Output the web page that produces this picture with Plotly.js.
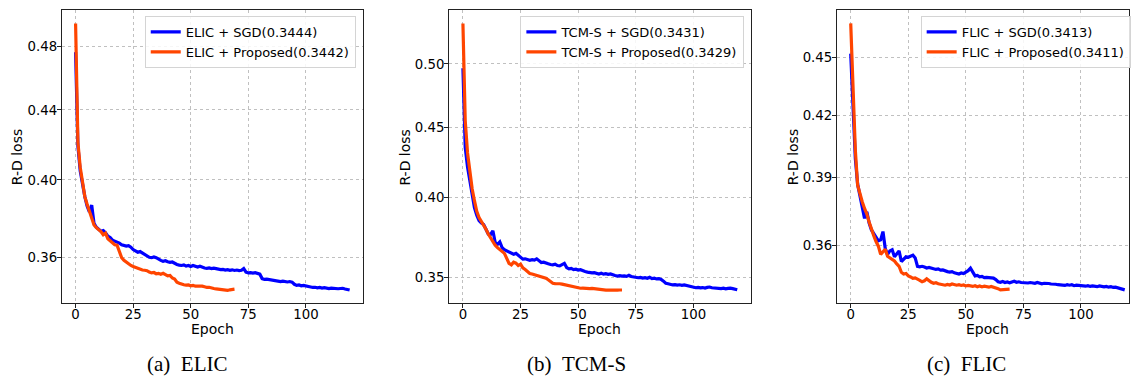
<!DOCTYPE html>
<html>
<head>
<meta charset="utf-8">
<script src="https://cdn.plot.ly/plotly-3.0.1.min.js"></script>
<style>html,body{margin:0;padding:0;background:#fff;}#chart{width:1131px;height:377px;}</style>
</head>
<body>
<div id="chart"></div>
<script>
// ---- Data (R-D loss per epoch) ----
const elicSGD = [0.476,0.419,0.405,0.397,0.391,0.386,0.383,0.3865,0.377,0.375,
0.3738,0.3730,0.3733,0.3722,0.3705,0.3698,0.3685,0.3680,0.3677,0.3670,
0.3662,0.3658,0.3655,0.3657,0.3650,0.3638,0.3632,0.3625,0.3628,0.3620,
0.3612,0.3605,0.3600,0.3598,0.3602,0.3598,0.3590,0.3585,0.3580,0.3583,
0.3578,0.3575,0.3577,0.3570,0.3565,0.3562,0.3560,0.3563,0.3557,0.3560,
0.3555,0.3560,0.3555,0.3552,0.3556,0.3550,0.3548,0.3546,0.3548,0.3545,
0.3547,0.3545,0.3542,0.3540,0.3541,0.3538,0.3540,0.3537,0.3539,0.3536,
0.3538,0.3535,0.3537,0.3545,0.3528,0.3524,0.3525,0.3523,0.3525,0.3522,
0.3518,0.3497,0.3493,0.3494,0.3492,0.3490,0.3488,0.3486,0.3485,0.3483,
0.3485,0.3482,0.3481,0.3483,0.3480,0.3470,0.3465,0.3467,0.3463,0.3465,
0.3462,0.3460,0.3456,0.3455,0.3456,0.3453,0.3455,0.3452,0.3454,0.3452,
0.3450,0.3452,0.3450,0.3451,0.3449,0.3450,0.3451,0.3448,0.3446,0.3443];
const elicProp = [0.495,0.421,0.407,0.398,0.391,0.387,0.3830,0.3795,0.3762,0.3748,
0.3738,0.3728,0.3712,0.3720,0.3692,0.3682,0.3668,0.3662,0.3660,0.3625,
0.3598,0.3585,0.3575,0.3568,0.3560,0.3555,0.3550,0.3547,0.3542,0.3538,
0.3537,0.3535,0.3528,0.3524,0.3526,0.3520,0.3522,0.3518,0.3522,0.3514,
0.3510,0.3512,0.3500,0.3495,0.3480,0.3475,0.3470,0.3468,0.3466,0.3467,
0.3463,0.3465,0.3461,0.3462,0.3460,0.3461,0.3458,0.3455,0.3456,0.3452,
0.3450,0.3448,0.3447,0.3446,0.3445,0.3443,0.3441,0.3444,0.3445,0.3447];

const tcmSGD = [0.4965,0.435,0.421,0.411,0.402,0.3935,0.3885,0.3850,0.3835,0.3825,
0.3795,0.3765,0.3762,0.3785,0.3712,0.3700,0.3715,0.3680,0.3667,0.3660,
0.3650,0.3648,0.3640,0.3645,0.3634,0.3620,0.3610,0.3612,0.3605,0.3603,
0.3607,0.3604,0.3612,0.3598,0.3590,0.3592,0.3585,0.3582,0.3578,0.3576,
0.3580,0.3572,0.3570,0.3575,0.3585,0.3560,0.3552,0.3555,0.3548,0.3550,
0.3545,0.3547,0.3540,0.3537,0.3533,0.3530,0.3528,0.3530,0.3524,0.3522,
0.3526,0.3521,0.3524,0.3520,0.3522,0.3516,0.3513,0.3510,0.3512,0.3509,
0.3511,0.3508,0.3514,0.3507,0.3504,0.3502,0.3500,0.3502,0.3498,0.3500,
0.3497,0.3503,0.3495,0.3497,0.3493,0.3495,0.3490,0.3480,0.3468,0.3465,
0.3462,0.3458,0.3460,0.3457,0.3459,0.3456,0.3458,0.3454,0.3450,0.3446,
0.3443,0.3442,0.3444,0.3441,0.3443,0.3440,0.3444,0.3446,0.3442,0.3440,
0.3438,0.3440,0.3437,0.3439,0.3436,0.3438,0.3440,0.3437,0.3435,0.3430];
const tcmProp = [0.535,0.455,0.431,0.4165,0.406,0.398,0.391,0.387,0.3845,0.3825,
0.3795,0.3765,0.3740,0.3715,0.3695,0.3680,0.3667,0.3655,0.3645,0.3615,
0.3585,0.3576,0.3592,0.3586,0.3572,0.3580,0.3558,0.3548,0.3535,0.3525,
0.3522,0.3518,0.3514,0.3512,0.3506,0.3500,0.3497,0.3488,0.3478,0.3468,
0.3466,0.3467,0.3465,0.3463,0.3460,0.3456,0.3452,0.3449,0.3446,0.3442,
0.3440,0.3439,0.3440,0.3438,0.3439,0.3437,0.3438,0.3436,0.3434,0.3431,
0.3429,0.3430,0.3428,0.3429,0.3428,0.3430,0.3429,0.3428,0.3429,0.3429];

const flicSGD = [0.452,0.425,0.399,0.387,0.382,0.378,0.3716,0.3745,0.3695,0.3665,
0.3650,0.3630,0.3618,0.3622,0.3658,0.3585,0.3560,0.3575,0.3580,0.3550,
0.3562,0.3575,0.3530,0.3540,0.3550,0.3548,0.3552,0.3557,0.3545,0.3510,
0.3508,0.3510,0.3507,0.3503,0.3505,0.3502,0.3500,0.3497,0.3499,0.3494,
0.3495,0.3490,0.3488,0.3486,0.3488,0.3483,0.3480,0.3478,0.3482,0.3480,
0.3486,0.3492,0.3502,0.3485,0.3470,0.3472,0.3466,0.3468,0.3463,0.3464,
0.3462,0.3463,0.3461,0.3455,0.3446,0.3444,0.3447,0.3443,0.3445,0.3442,
0.3446,0.3448,0.3444,0.3446,0.3443,0.3442,0.3444,0.3441,0.3443,0.3442,
0.3440,0.3443,0.3441,0.3438,0.3440,0.3441,0.3439,0.3437,0.3438,0.3436,
0.3434,0.3432,0.3433,0.3431,0.3434,0.3432,0.3434,0.3430,0.3432,0.3431,
0.3429,0.3431,0.3428,0.3430,0.3427,0.3429,0.3428,0.3426,0.3429,0.3427,
0.3425,0.3427,0.3424,0.3426,0.3423,0.3424,0.3421,0.3420,0.3417,0.3413];
const flicProp = [0.4685,0.432,0.403,0.3865,0.3820,0.3790,0.3760,0.3735,0.3700,0.3665,
0.3640,0.3615,0.3595,0.3560,0.3570,0.3582,0.3552,0.3545,0.3540,0.3532,
0.3520,0.3510,0.3485,0.3478,0.3480,0.3470,0.3466,0.3460,0.3462,0.3458,
0.3452,0.3446,0.3450,0.3458,0.3450,0.3444,0.3440,0.3442,0.3438,0.3436,
0.3434,0.3432,0.3435,0.3433,0.3437,0.3435,0.3432,0.3434,0.3431,0.3433,
0.3429,0.3431,0.3428,0.3427,0.3430,0.3426,0.3429,0.3425,0.3428,0.3426,
0.3424,0.3427,0.3425,0.3422,0.3418,0.3413,0.3414,0.3412,0.3415,0.3416];

const seriesNames = [
  ["ELIC + SGD(0.3444)", "ELIC + Proposed(0.3442)"],
  ["TCM-S + SGD(0.3431)", "TCM-S + Proposed(0.3429)"],
  ["FLIC + SGD(0.3413)", "FLIC + Proposed(0.3411)"]
];
const captions = ["(a)\u00a0\u00a0ELIC", "(b)\u00a0\u00a0TCM-S", "(c)\u00a0\u00a0FLIC"];
const xTicks = [0, 25, 50, 75, 100];
const yTicks = [
  [0.36, 0.40, 0.44, 0.48],
  [0.35, 0.40, 0.45, 0.50],
  [0.36, 0.39, 0.42, 0.45]
];
const yTickText = [
  ["0.36", "0.40", "0.44", "0.48"],
  ["0.35", "0.40", "0.45", "0.50"],
  ["0.36", "0.39", "0.42", "0.45"]
];

// ---- Layout geometry ----
const W = 1131, H = 377;
const xDomains = [[62/W, 364/W], [450/W, 752.3/W], [838.5/W, 1]];
const xRanges = [[-5.95, 124.95], [-5.95, 124.95], [-5.95, 120.85]];
const yRanges = [[-0.47074, -0.29746], [-0.47426, -0.26190], [-0.47364, -0.32237]];
const yDomain = [1 - 303/H, 1 - 10/H];
const legendX = [145/W, 521.3/W, 922.3/W];
const yTitleX = [17.3, 405.3, 794.7];
const xTitleX = [213, 601, 989];
const captionX = [187, 578, 968];

const BLUE = '#0000ff', ORANGE = '#ff4500';
const FONT = 'DejaVu Sans, Verdana, sans-serif';

const pairs = [[elicSGD, elicProp], [tcmSGD, tcmProp], [flicSGD, flicProp]];
const traces = [];
pairs.forEach((p, k) => {
  const sfx = k === 0 ? '' : String(k + 1);
  [0, 1].forEach(j => {
    const vals = p[j];
    traces.push({
      x: vals.map((_, i) => i),
      y: vals,
      type: 'scatter',
      mode: 'lines',
      name: seriesNames[k][j],
      line: {color: j === 0 ? BLUE : ORANGE, width: 3.2},
      xaxis: 'x' + sfx,
      yaxis: 'y' + sfx,
      legend: 'legend' + sfx,
      hoverinfo: 'skip'
    });
  });
});

const layout = {
  width: W, height: H,
  margin: {l: 0, r: 0, t: 0, b: 0},
  paper_bgcolor: '#ffffff',
  plot_bgcolor: '#ffffff',
  showlegend: true,
  font: {family: FONT, color: '#000'},
  annotations: []
};

for (let k = 0; k < 3; k++) {
  const sfx = k === 0 ? '' : String(k + 1);
  layout['xaxis' + sfx] = {
    domain: xDomains[k], range: xRanges[k], anchor: 'y' + sfx,
    tickvals: xTicks, ticktext: xTicks.map(String),
    ticks: 'outside', ticklen: 4, tickwidth: 1, tickcolor: '#222',
    ticklabelstandoff: -5,
    showline: true, linecolor: '#222', linewidth: 1.1, mirror: true,
    showgrid: true, gridcolor: '#b0b0b0', griddash: 'dot', gridwidth: 0.8,
    zeroline: false, fixedrange: true,
    tickfont: {family: FONT, size: 13.3, color: '#000'}
  };
  layout['yaxis' + sfx] = {
    domain: yDomain, type: 'log', range: yRanges[k], anchor: 'x' + sfx,
    tickvals: yTicks[k], ticktext: yTickText[k],
    ticks: 'outside', ticklen: 4, tickwidth: 1, tickcolor: '#222',
    ticklabelstandoff: -3,
    showline: true, linecolor: '#222', linewidth: 1.1, mirror: true,
    showgrid: true, gridcolor: '#b0b0b0', griddash: 'dot', gridwidth: 0.8,
    zeroline: false, fixedrange: true,
    tickfont: {family: FONT, size: 13.3, color: '#000'}
  };
  layout['legend' + sfx] = {
    x: legendX[k], xanchor: 'left', y: 1 - 16/H, yanchor: 'top',
    bgcolor: 'rgba(255,255,255,0.85)', bordercolor: '#d4d4d4', borderwidth: 1,
    font: {family: FONT, size: 13, color: '#000'},
    tracegroupgap: 0
  };
  layout.annotations.push({
    xref: 'paper', yref: 'paper', x: yTitleX[k]/W, y: 1 - 157/H,
    text: 'R-D loss', textangle: -90, showarrow: false,
    xanchor: 'center', yanchor: 'middle',
    font: {family: FONT, size: 14, color: '#000'}
  });
  layout.annotations.push({
    xref: 'paper', yref: 'paper', x: xTitleX[k]/W, y: 1 - 329/H,
    text: 'Epoch', showarrow: false, xanchor: 'center', yanchor: 'middle',
    font: {family: FONT, size: 14, color: '#000'}
  });
  layout.annotations.push({
    xref: 'paper', yref: 'paper', x: captionX[k]/W, y: 1 - 364/H,
    text: captions[k], showarrow: false, xanchor: 'center', yanchor: 'middle',
    font: {family: 'Liberation Serif, DejaVu Serif, serif', size: 21, color: '#000'}
  });
}

Plotly.newPlot('chart', traces, layout, {displayModeBar: false, staticPlot: true});
</script>
</body>
</html>
